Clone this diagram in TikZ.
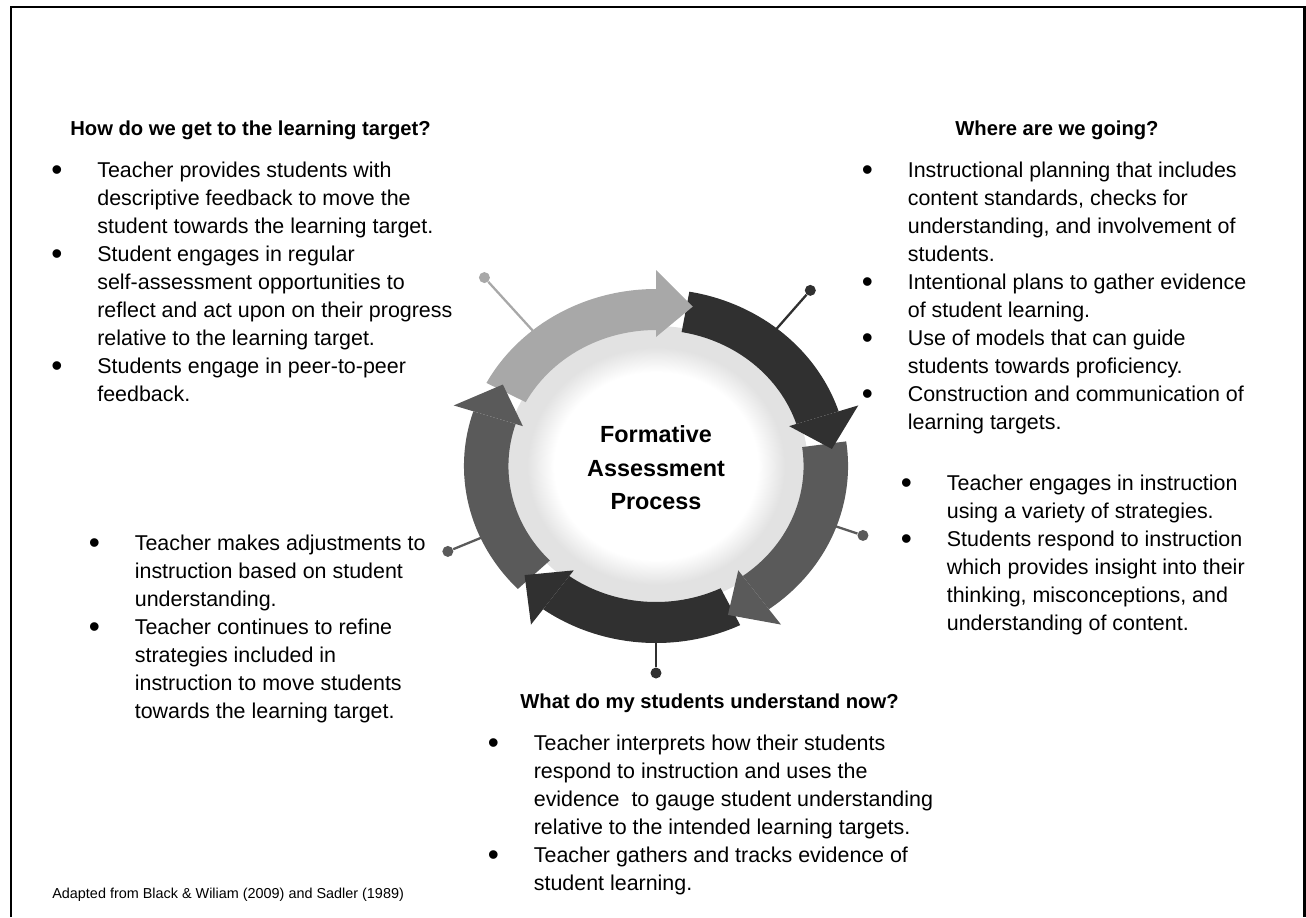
\documentclass[tikz,border=0pt]{standalone}
\usepackage{fontspec}
\setmainfont{Liberation Sans}
\definecolor{ringlight}{RGB}{168,168,168}
\definecolor{ringdark}{RGB}{48,48,48}
\definecolor{ringmid}{RGB}{90,90,90}
\definecolor{hubgrey}{RGB}{226,226,226}
\pgfdeclareradialshading{hubglow}{\pgfpoint{0bp}{0bp}}{color(0bp)=(white); color(17bp)=(white); color(21.5bp)=(hubgrey); color(50bp)=(hubgrey)}
\newcommand{\pointmark}{\raisebox{-2.2pt}{\fontsize{18}{18}\selectfont\textbullet}}
\newcommand{\pointlist}[1]{\begin{tabular}[t]{@{}p{0.92cm}@{}l@{}}#1\end{tabular}}

\begin{document}
\begin{tikzpicture}[x=0.02cm,y=-0.02cm,
    body/.style={font=\fontsize{12.2}{15.94}\selectfont,anchor=base west,inner sep=0pt},
    heading/.style={font=\fontsize{11.5}{14}\selectfont\bfseries,anchor=base west,inner sep=0pt},
    pin dot/.style={circle,inner sep=0pt,minimum size=0.22cm},
    pin line/.style={line width=1.3pt}]
  \useasboundingbox (0,0) rectangle (1306,917);
  \draw[line width=1.7pt] (11,917)--(11,7)--(1304,7)--(1304,917);

  % cycle in the middle
  \begin{scope}[shift={(656,466)},xscale=1.085,yscale=-1]
    \foreach \ang/\len/\col [count=\i] in {130/246/ringlight,51/226/ringdark,-20/203/ringmid,-90/207/ringdark,204/210/ringmid}{
      \coordinate (foot\i) at (\ang:165);
      \node[pin dot,fill=\col] (pin\i) at (\ang:\len) {};
      \draw[pin line,draw=\col] (foot\i) -- (pin\i);
    }
    \fill[hubgrey] (0,0) circle[radius=140];
    \shade[shading=hubglow] (0,0) circle[radius=138];
    \foreach \b/\col in {90/ringlight,18/ringdark,-54/ringmid,-126/ringdark,-198/ringmid}
      \fill[\col] (\b+62:177) arc[start angle=\b+62,end angle=\b,radius=177]
        -- (\b:136) arc[start angle=\b,end angle=\b+62,radius=136] -- cycle;
    \foreach \b/\col in {90/ringlight,18/ringdark,-54/ringmid,-126/ringdark,-198/ringmid}
      \fill[\col] (\b:129) -- (\b:196) -- (\b-12:163) -- cycle;
  \end{scope}
  \node[font=\fontsize{13.3}{19}\selectfont\bfseries,align=center] (hub) at (656,468)
    {Formative\\Assessment\\Process};

  % where are we going
  \node[heading] (goingHead) at (955,135) {Where are we going?};
  \node[body] (goingList) at (861.5,177) {\pointlist{
    \pointmark & Instructional planning that includes\\
    & content standards, checks for\\
    & understanding, and involvement of\\
    & students.\\
    \pointmark & Intentional plans to gather evidence\\
    & of student learning.\\
    \pointmark & Use of models that can guide\\
    & students towards proficiency.\\
    \pointmark & Construction and communication of\\
    & learning targets.}};

  % instruction
  \node[body] (teachList) at (900.5,490) {\pointlist{
    \pointmark & Teacher engages in instruction\\
    & using a variety of strategies.\\
    \pointmark & Students respond to instruction\\
    & which provides insight into their\\
    & thinking, misconceptions, and\\
    & understanding of content.}};

  % where are we now
  \node[heading] (nowHead) at (520,708) {What do my students understand now?};
  \node[body] (nowList) at (487.5,750) {\pointlist{
    \pointmark & Teacher interprets how their students\\
    & respond to instruction and uses the\\
    & evidence~ to gauge student understanding\\
    & relative to the intended learning targets.\\
    \pointmark & Teacher gathers and tracks evidence of\\
    & student learning.}};

  % adjusting
  \node[body] (adjustList) at (88.5,550) {\pointlist{
    \pointmark & Teacher makes adjustments to\\
    & instruction based on student\\
    & understanding.\\
    \pointmark & Teacher continues to refine\\
    & strategies included in\\
    & instruction to move students\\
    & towards the learning target.}};

  % closing the gap
  \node[heading] (gapHead) at (70,135) {How do we get to the learning target?};
  \node[body] (gapList) at (51,177) {\pointlist{
    \pointmark & Teacher provides students with\\
    & descriptive feedback to move the\\
    & student towards the learning target.\\
    \pointmark & Student engages in regular\\
    & self-assessment opportunities to\\
    & reflect and act upon on their progress\\
    & relative to the learning target.\\
    \pointmark & Students engage in peer-to-peer\\
    & feedback.}};

  \node[anchor=base west,inner sep=0pt,font=\fontsize{8.2}{10}\selectfont] (source) at (52,898)
    {Adapted from Black \& Wiliam (2009) and Sadler (1989)};
\end{tikzpicture}
\end{document}
